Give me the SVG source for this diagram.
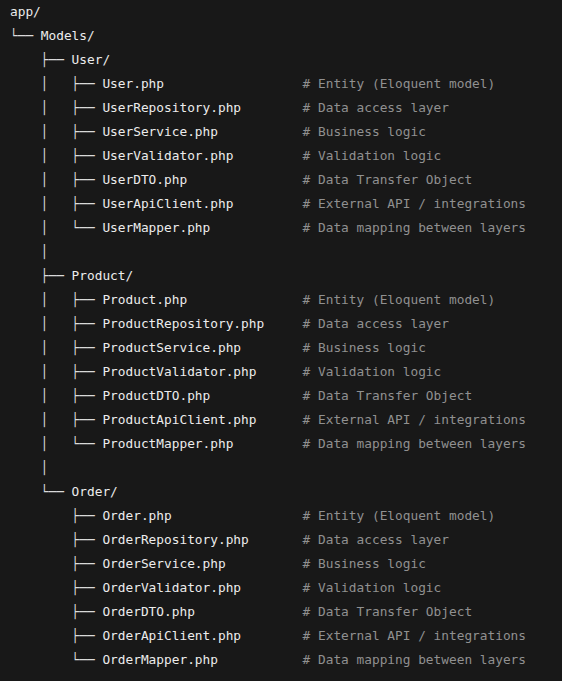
<svg xmlns="http://www.w3.org/2000/svg" width="562" height="681" viewBox="0 0 562 681">
<style>
text{font-family:"DejaVu Sans Mono","Liberation Mono",monospace;font-size:12.8px;white-space:pre}
.t{fill:#dadada}
.n{fill:#ececec}
.c{fill:#909090}
</style>
<rect width="562" height="681" fill="#181818"/>
<g transform="translate(0,-1)">
<g id="connectors">
<text class="t" x="10" y="41" xml:space="preserve">└── </text>
<text class="t" x="40.8" y="65" xml:space="preserve">├── </text>
<text class="t" x="40.8" y="89" xml:space="preserve">│   ├── </text>
<text class="t" x="40.8" y="113" xml:space="preserve">│   ├── </text>
<text class="t" x="40.8" y="137" xml:space="preserve">│   ├── </text>
<text class="t" x="40.8" y="161" xml:space="preserve">│   ├── </text>
<text class="t" x="40.8" y="185" xml:space="preserve">│   ├── </text>
<text class="t" x="40.8" y="209" xml:space="preserve">│   ├── </text>
<text class="t" x="40.8" y="233" xml:space="preserve">│   └── </text>
<text class="t" x="40.8" y="257" xml:space="preserve">│</text>
<text class="t" x="40.8" y="281" xml:space="preserve">├── </text>
<text class="t" x="40.8" y="305" xml:space="preserve">│   ├── </text>
<text class="t" x="40.8" y="329" xml:space="preserve">│   ├── </text>
<text class="t" x="40.8" y="353" xml:space="preserve">│   ├── </text>
<text class="t" x="40.8" y="377" xml:space="preserve">│   ├── </text>
<text class="t" x="40.8" y="401" xml:space="preserve">│   ├── </text>
<text class="t" x="40.8" y="425" xml:space="preserve">│   ├── </text>
<text class="t" x="40.8" y="449" xml:space="preserve">│   └── </text>
<text class="t" x="40.8" y="473" xml:space="preserve">│</text>
<text class="t" x="40.8" y="497" xml:space="preserve">└── </text>
<text class="t" x="71.6" y="521" xml:space="preserve">├── </text>
<text class="t" x="71.6" y="545" xml:space="preserve">├── </text>
<text class="t" x="71.6" y="569" xml:space="preserve">├── </text>
<text class="t" x="71.6" y="593" xml:space="preserve">├── </text>
<text class="t" x="71.6" y="617" xml:space="preserve">├── </text>
<text class="t" x="71.6" y="641" xml:space="preserve">├── </text>
<text class="t" x="71.6" y="665" xml:space="preserve">└── </text>
</g>
<g id="app"><text class="n" x="10" y="17">app/</text></g>
<g id="models"><text class="n" x="40.8" y="41">Models/</text></g>
<g id="user"><text class="n" x="71.6" y="65">User/</text></g>
<g id="user-php"><text class="n" x="102.4" y="89">User.php</text><text class="c" x="302.6" y="89"># Entity (Eloquent model)</text></g>
<g id="user-repo"><text class="n" x="102.4" y="113">UserRepository.php</text><text class="c" x="302.6" y="113"># Data access layer</text></g>
<g id="user-service"><text class="n" x="102.4" y="137">UserService.php</text><text class="c" x="302.6" y="137"># Business logic</text></g>
<g id="user-validator"><text class="n" x="102.4" y="161">UserValidator.php</text><text class="c" x="302.6" y="161"># Validation logic</text></g>
<g id="user-dto"><text class="n" x="102.4" y="185">UserDTO.php</text><text class="c" x="302.6" y="185"># Data Transfer Object</text></g>
<g id="user-api"><text class="n" x="102.4" y="209">UserApiClient.php</text><text class="c" x="302.6" y="209"># External API / integrations</text></g>
<g id="user-mapper"><text class="n" x="102.4" y="233">UserMapper.php</text><text class="c" x="302.6" y="233"># Data mapping between layers</text></g>
<g id="product"><text class="n" x="71.6" y="281">Product/</text></g>
<g id="product-php"><text class="n" x="102.4" y="305">Product.php</text><text class="c" x="302.6" y="305"># Entity (Eloquent model)</text></g>
<g id="product-repo"><text class="n" x="102.4" y="329">ProductRepository.php</text><text class="c" x="302.6" y="329"># Data access layer</text></g>
<g id="product-service"><text class="n" x="102.4" y="353">ProductService.php</text><text class="c" x="302.6" y="353"># Business logic</text></g>
<g id="product-validator"><text class="n" x="102.4" y="377">ProductValidator.php</text><text class="c" x="302.6" y="377"># Validation logic</text></g>
<g id="product-dto"><text class="n" x="102.4" y="401">ProductDTO.php</text><text class="c" x="302.6" y="401"># Data Transfer Object</text></g>
<g id="product-api"><text class="n" x="102.4" y="425">ProductApiClient.php</text><text class="c" x="302.6" y="425"># External API / integrations</text></g>
<g id="product-mapper"><text class="n" x="102.4" y="449">ProductMapper.php</text><text class="c" x="302.6" y="449"># Data mapping between layers</text></g>
<g id="order"><text class="n" x="71.6" y="497">Order/</text></g>
<g id="order-php"><text class="n" x="102.4" y="521">Order.php</text><text class="c" x="302.6" y="521"># Entity (Eloquent model)</text></g>
<g id="order-repo"><text class="n" x="102.4" y="545">OrderRepository.php</text><text class="c" x="302.6" y="545"># Data access layer</text></g>
<g id="order-service"><text class="n" x="102.4" y="569">OrderService.php</text><text class="c" x="302.6" y="569"># Business logic</text></g>
<g id="order-validator"><text class="n" x="102.4" y="593">OrderValidator.php</text><text class="c" x="302.6" y="593"># Validation logic</text></g>
<g id="order-dto"><text class="n" x="102.4" y="617">OrderDTO.php</text><text class="c" x="302.6" y="617"># Data Transfer Object</text></g>
<g id="order-api"><text class="n" x="102.4" y="641">OrderApiClient.php</text><text class="c" x="302.6" y="641"># External API / integrations</text></g>
<g id="order-mapper"><text class="n" x="102.4" y="665">OrderMapper.php</text><text class="c" x="302.6" y="665"># Data mapping between layers</text></g>
</g>
</svg>
